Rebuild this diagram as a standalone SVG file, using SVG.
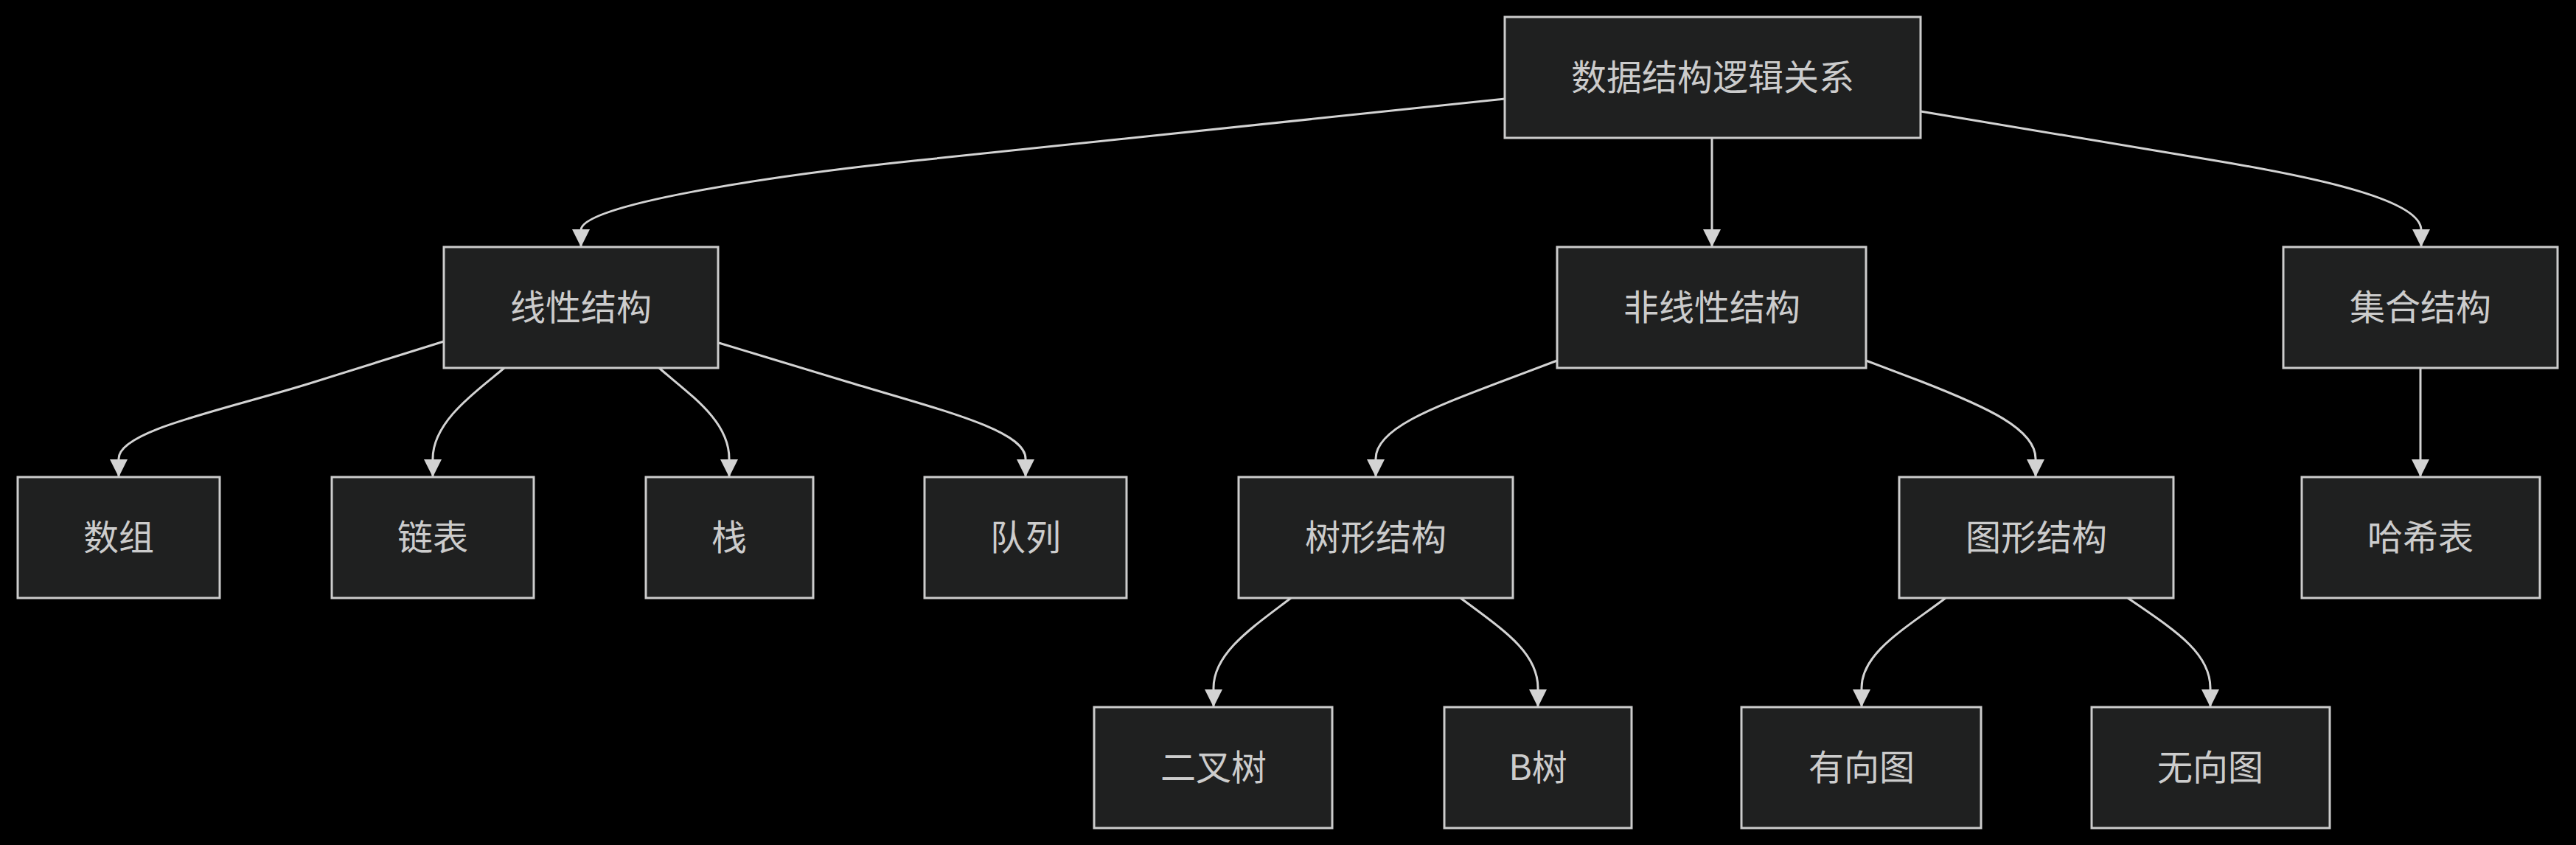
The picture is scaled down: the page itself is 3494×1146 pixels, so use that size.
<svg xmlns="http://www.w3.org/2000/svg" width="3494" height="1146" viewBox="0 0 3494 1146">
<style>
.bg{fill:#000000}
.node rect{fill:#1f2020;stroke:#cccccc;stroke-width:3}
.node text{fill:#cccccc;font-family:"Noto Sans CJK SC","Noto Sans",sans-serif;font-size:48px;text-anchor:middle}
.edge{fill:none;stroke:#d3d3d3;stroke-width:3;marker-end:url(#arrow)}
</style>
<defs>
<marker id="arrow" markerUnits="userSpaceOnUse" viewBox="0 0 24 24" refX="24" refY="12" markerWidth="24" markerHeight="24" orient="auto">
<path d="M0,0 L24,12 L0,24 z" fill="#d3d3d3"/>
</marker>
</defs>
<rect class="bg" x="0" y="0" width="3494" height="1146"/>
<g id="connectors">
<path class="edge" d="M2041,134 L1240,218 C1040,239 788,278 788,312 L788,335"/>
<path class="edge" d="M2322,187 L2322,335"/>
<path class="edge" d="M2605,151 L3000,217 C3150,242 3284,272 3284,312 L3284,335"/>
<path class="edge" d="M3283,499 L3283,647"/>
<path class="edge" d="M602,463 L420,520 C300,557 161,584 161,622 L161,647"/>
<path class="edge" d="M684,499 C650,528 587,570 587,622 L587,647"/>
<path class="edge" d="M894,499 C935,535 989,570 989,622 L989,647"/>
<path class="edge" d="M975,465 L1150,518 C1280,557 1391,584 1391,622 L1391,647"/>
<path class="edge" d="M2112,489 L2035,518 C1940,554 1866,582 1866,622 L1866,647"/>
<path class="edge" d="M2531,489 L2605,517 C2695,552 2761,582 2761,622 L2761,647"/>
<path class="edge" d="M1751,811 C1700,850 1646,885 1646,933 L1646,959"/>
<path class="edge" d="M1981,811 C2040,855 2086,885 2086,933 L2086,959"/>
<path class="edge" d="M2639,811 C2585,852 2525,885 2525,933 L2525,959"/>
<path class="edge" d="M2886,811 C2950,855 2998,885 2998,933 L2998,959"/>
</g>
<g id="root" class="node"><rect x="2041" y="23" width="564" height="164"/><text x="2323" y="122">数据结构逻辑关系</text></g>
<g id="linear" class="node"><rect x="602" y="335" width="372" height="164"/><text x="788" y="434">线性结构</text></g>
<g id="nonlinear" class="node"><rect x="2112" y="335" width="419" height="164"/><text x="2322" y="434">非线性结构</text></g>
<g id="set" class="node"><rect x="3097" y="335" width="372" height="164"/><text x="3283" y="434">集合结构</text></g>
<g id="array" class="node"><rect x="24" y="647" width="274" height="164"/><text x="161" y="746">数组</text></g>
<g id="linkedlist" class="node"><rect x="450" y="647" width="274" height="164"/><text x="587" y="746">链表</text></g>
<g id="stack" class="node"><rect x="876" y="647" width="227" height="164"/><text x="989" y="746">栈</text></g>
<g id="queue" class="node"><rect x="1254" y="647" width="274" height="164"/><text x="1391" y="746">队列</text></g>
<g id="tree" class="node"><rect x="1680" y="647" width="372" height="164"/><text x="1866" y="746">树形结构</text></g>
<g id="graph" class="node"><rect x="2576" y="647" width="372" height="164"/><text x="2762" y="746">图形结构</text></g>
<g id="hash" class="node"><rect x="3122" y="647" width="323" height="164"/><text x="3283" y="746">哈希表</text></g>
<g id="binarytree" class="node"><rect x="1484" y="959" width="323" height="164"/><text x="1646" y="1058">二叉树</text></g>
<g id="btree" class="node"><rect x="1959" y="959" width="254" height="164"/><text x="2086" y="1058">B树</text></g>
<g id="directed" class="node"><rect x="2362" y="959" width="325" height="164"/><text x="2525" y="1058">有向图</text></g>
<g id="undirected" class="node"><rect x="2837" y="959" width="323" height="164"/><text x="2998" y="1058">无向图</text></g>
</svg>
